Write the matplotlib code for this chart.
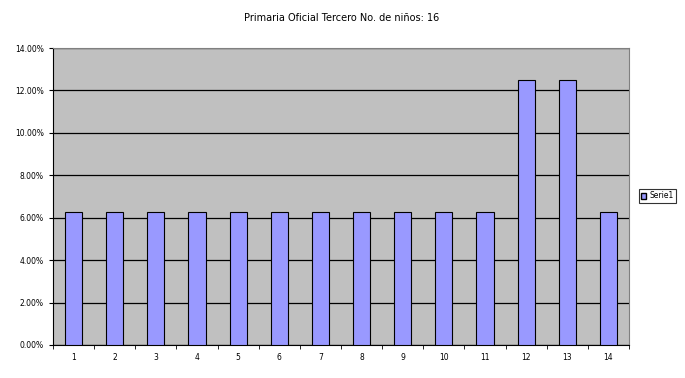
import numpy as np
import matplotlib.pyplot as plt
from matplotlib.ticker import FuncFormatter, FixedLocator
from matplotlib.patches import Patch

# Data
categories = [str(i) for i in range(1, 15)]
serie1 = [6.25, 6.25, 6.25, 6.25, 6.25, 6.25, 6.25, 6.25, 6.25, 6.25, 6.25, 12.5, 12.5, 6.25]
title = 'Primaria Oficial Tercero No. de niños: 16'

fig = plt.figure(figsize=(6.85, 3.78), dpi=100)
ax = fig.add_axes([53 / 685, 33 / 378, 576 / 685, 297 / 378])
ax.set_facecolor('#C0C0C0')

x = np.arange(len(categories))
ax.bar(x, serie1, width=0.42, color='#9999FF', edgecolor='black', linewidth=0.8, zorder=3)

ax.set_xlim(-0.5, len(categories) - 0.5)
ax.set_ylim(0, 14)
ax.set_yticks(np.arange(0, 14.01, 2))
ax.yaxis.set_major_formatter(FuncFormatter(lambda v, p: f'{v:.2f}%'))
ax.grid(axis='y', color='black', linewidth=0.9, zorder=1)

ax.set_xticks(x)
ax.set_xticklabels(categories)
ax.xaxis.set_minor_locator(FixedLocator(np.arange(-0.5, len(categories), 1)))
ax.tick_params(axis='x', which='major', length=0, pad=6)
ax.tick_params(axis='x', which='minor', length=3, direction='out')
ax.tick_params(axis='y', length=3, direction='out')
ax.tick_params(labelsize=5.5)

for s in ['top', 'right']:
    ax.spines[s].set_color('#808080')
ax.spines['left'].set_color('black')
ax.spines['bottom'].set_color('black')

fig.text(342 / 685, 1 - 18 / 378, title, ha='center', va='center', fontsize=7)

leg = fig.legend(handles=[Patch(facecolor='#9999FF', edgecolor='black', label='Serie1')],
                 loc='center left', bbox_to_anchor=(635 / 685, 1 - 196 / 378),
                 fontsize=5.5, frameon=True, fancybox=False, handlelength=0.7,
                 handleheight=0.7, handletextpad=0.4, borderpad=0.3)
leg.get_frame().set_edgecolor('black')
leg.get_frame().set_linewidth(0.8)

fig.savefig('out.png', dpi=100)
